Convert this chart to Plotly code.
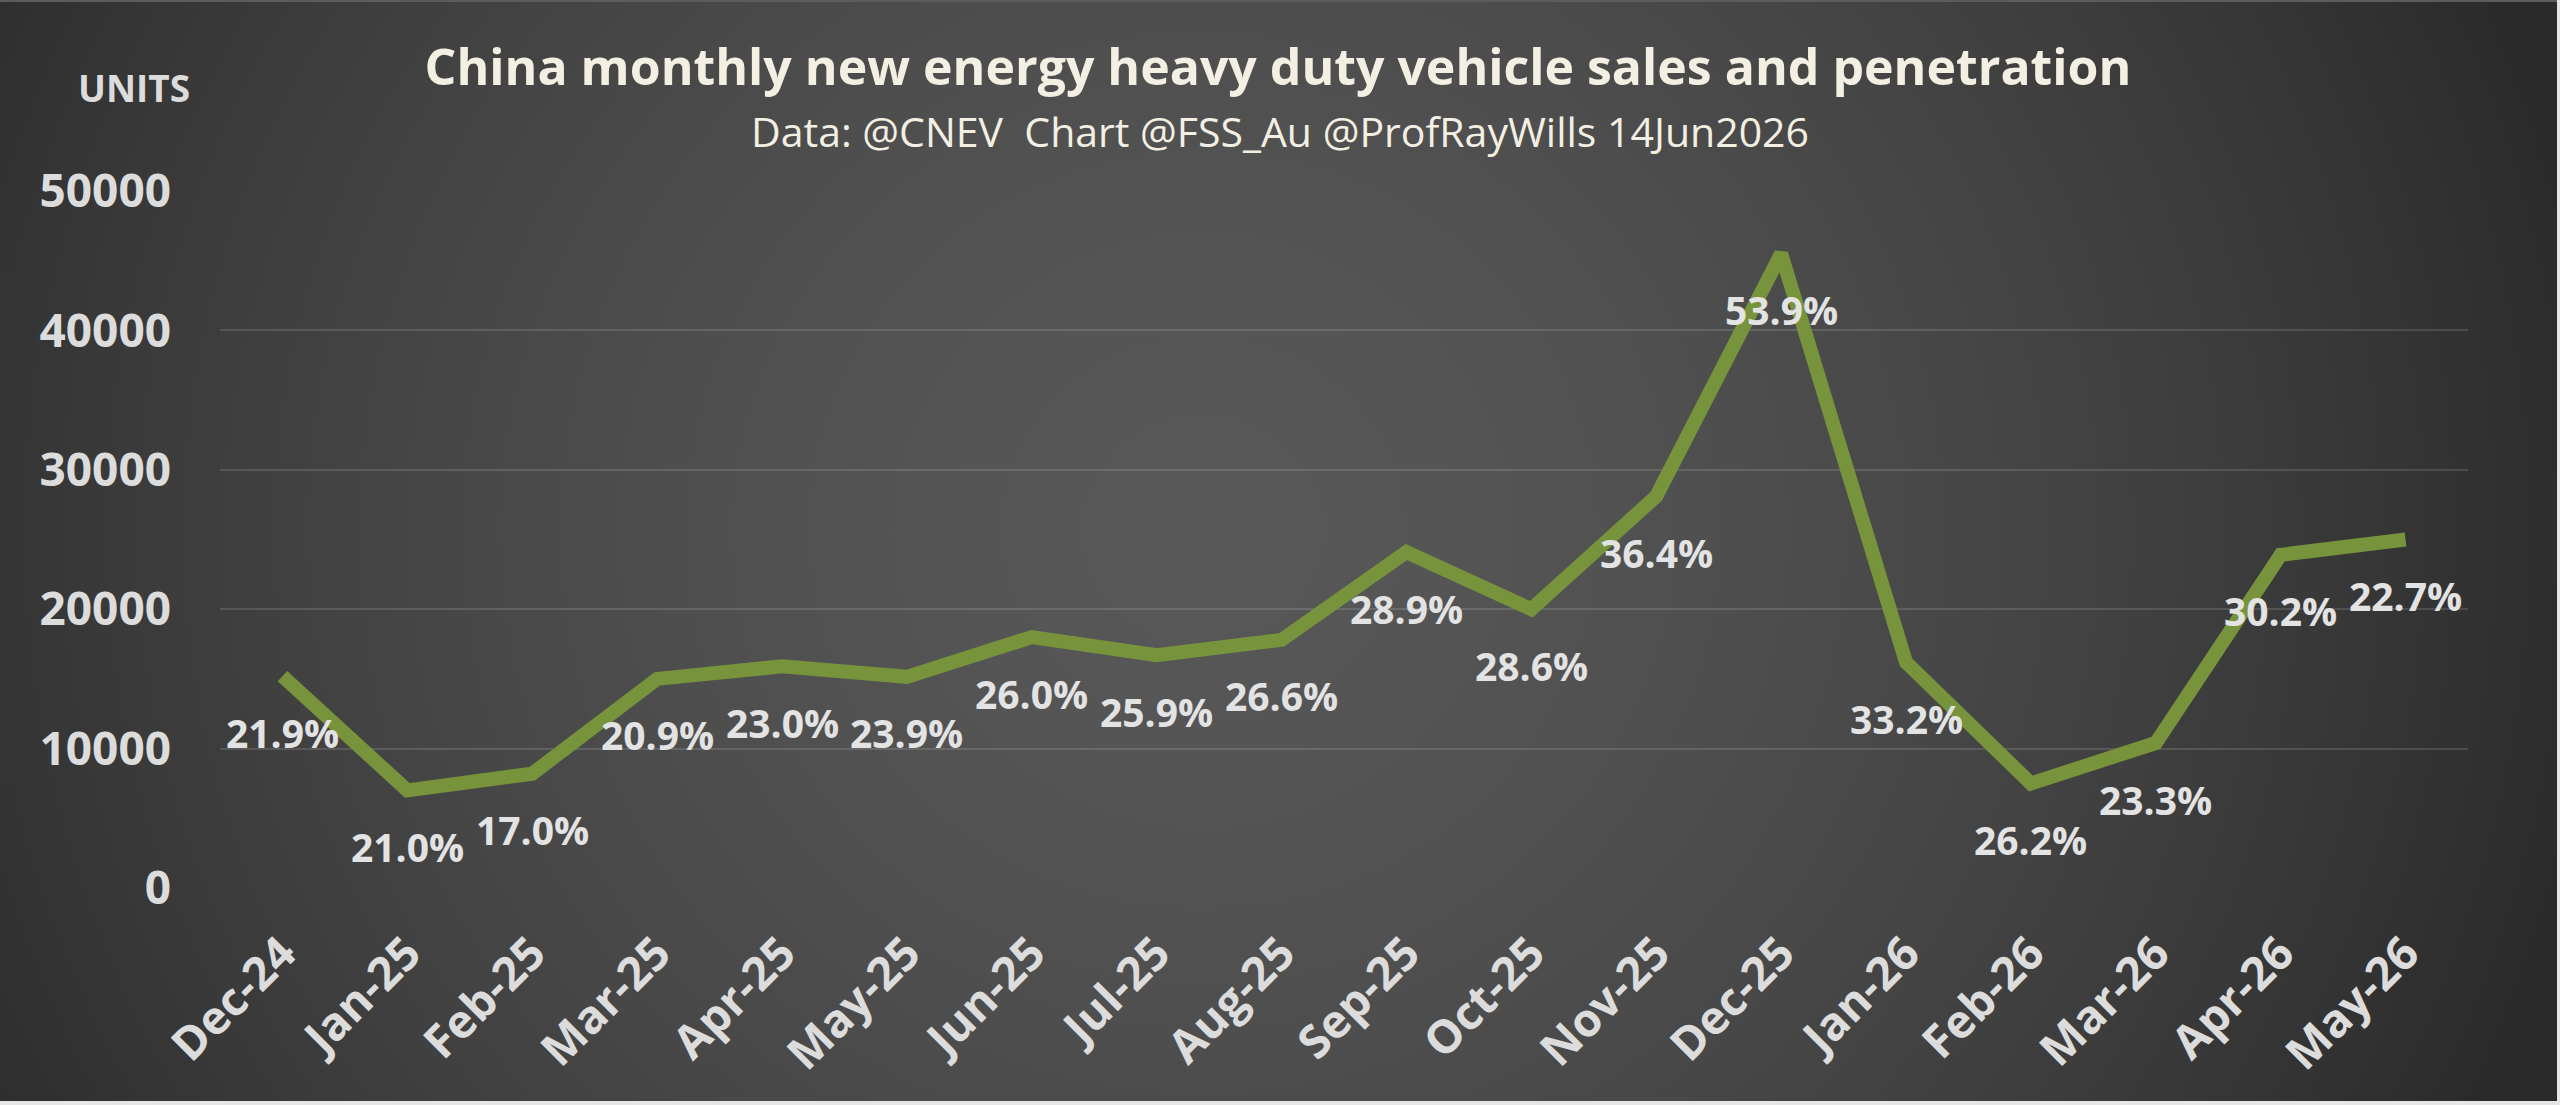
import base64
import struct
import zlib

import numpy as np
import plotly.graph_objects as go

# ---------------- data ----------------
months = ["Dec-24", "Jan-25", "Feb-25", "Mar-25", "Apr-25", "May-25", "Jun-25",
          "Jul-25", "Aug-25", "Sep-25", "Oct-25", "Nov-25", "Dec-25", "Jan-26",
          "Feb-26", "Mar-26", "Apr-26", "May-26"]
sales_units = [15200, 7000, 8200, 15000, 15900, 15150, 18000, 16700, 17800,
               24100, 20000, 28100, 45500, 16200, 7500, 10400, 23900, 25000]
penetration_pct = [21.9, 21.0, 17.0, 20.9, 23.0, 23.9, 26.0, 25.9, 26.6,
                   28.9, 28.6, 36.4, 53.9, 33.2, 26.2, 23.3, 30.2, 22.7]
y_ticks = [0, 10000, 20000, 30000, 40000, 50000]

title_text = "China monthly new energy heavy duty vehicle sales and penetration"
subtitle_text = "Data: @CNEV  Chart @FSS_Au @ProfRayWills 14Jun2026"
unit_text = "UNITS"

# ---------------- geometry ----------------
W, H = 2560, 1105
ML, MR, MT, MB = 220, 92, 191, 217
PW, PH = W - ML - MR, H - MT - MB


def px_to_paper_x(px):
    return (px - ML) / PW


def py_to_paper_y(py):
    return (H - MB - py) / PH


# ---------------- background gradient as PNG ----------------
def gradient_png(w=320, h=138):
    xs = (np.arange(w) + 0.5) / w
    ys = (np.arange(h) + 0.5) / h
    X, Y = np.meshgrid(xs, ys)
    d = np.sqrt(((X - 0.47) / 0.56) ** 2 + ((Y - 0.48) / 1.25) ** 2)
    d = np.clip(d, 0, 1)
    t = 1 - d ** 1.6
    v = 42 + (88 - 42) * t
    img = np.clip(v, 0, 255).astype(np.uint8)
    rgb = np.stack([img, img, img], axis=-1)
    raw = b"".join(b"\x00" + rgb[r].tobytes() for r in range(h))

    def chunk(tag, data):
        c = struct.pack(">I", len(data)) + tag + data
        return c + struct.pack(">I", zlib.crc32(tag + data) & 0xFFFFFFFF)

    png = b"\x89PNG\r\n\x1a\n"
    png += chunk(b"IHDR", struct.pack(">IIBBBBB", w, h, 8, 2, 0, 0, 0))
    png += chunk(b"IDAT", zlib.compress(raw, 9))
    png += chunk(b"IEND", b"")
    return "data:image/png;base64," + base64.b64encode(png).decode()


FONT = "Open Sans"
LABEL_COLOR = "#E3E3E3"
TICK_COLOR = "#DCDCDC"
TITLE_COLOR = "#F3EFE3"

fig = go.Figure()
fig.add_trace(go.Scatter(
    x=months, y=sales_units, mode="lines",
    line=dict(color="#77933C", width=14),
    hoverinfo="skip", cliponaxis=False, showlegend=False,
))

annotations = []
for m, s, p in zip(months, sales_units, penetration_pct):
    annotations.append(dict(
        x=m, y=s, xref="x", yref="y", text=f"{p:.1f}%", showarrow=False,
        yshift=-56, font=dict(family=FONT, size=39, color=LABEL_COLOR, weight=700),
    ))

annotations.append(dict(
    x=px_to_paper_x(1280), y=py_to_paper_y(131), xref="paper", yref="paper",
    text=subtitle_text, showarrow=False, xanchor="center", yanchor="middle",
    font=dict(family=FONT, size=41, color=TITLE_COLOR),
))
annotations.append(dict(
    x=px_to_paper_x(134), y=py_to_paper_y(87), xref="paper", yref="paper",
    text=unit_text, showarrow=False, xanchor="center", yanchor="middle",
    font=dict(family=FONT, size=37, color=TICK_COLOR, weight=700),
))

fig.update_layout(
    width=W, height=H,
    margin=dict(l=ML, r=MR, t=MT, b=MB, pad=0),
    paper_bgcolor="#404040",
    plot_bgcolor="rgba(0,0,0,0)",
    title=dict(
        text=title_text, xref="container", yref="container",
        x=1278 / W, y=1 - 67 / H, xanchor="center", yanchor="middle",
        font=dict(family=FONT, size=50, color=TITLE_COLOR, weight=700),
    ),
    xaxis=dict(
        type="category", range=[-0.5, len(months) - 0.5],
        showgrid=False, zeroline=False, showline=False, ticks="",
        tickangle=-45,
        tickfont=dict(family=FONT, size=46, color=TICK_COLOR, weight=700),
        ticklabelstandoff=28,
    ),
    yaxis=dict(
        range=[0, 50000], tickvals=y_ticks, tickformat="d",
        showgrid=True, gridcolor="rgba(255,255,255,0.13)", gridwidth=2,
        zeroline=False, showline=False, ticks="",
        tickfont=dict(family=FONT, size=46, color=TICK_COLOR, weight=700),
        ticklabelstandoff=48,
    ),
    annotations=annotations,
    images=[dict(
        source=gradient_png(), xref="paper", yref="paper",
        x=px_to_paper_x(0), y=py_to_paper_y(0),
        sizex=W / PW, sizey=H / PH, sizing="stretch",
        xanchor="left", yanchor="top", layer="below",
    )],
    shapes=[
        dict(type="line", xref="paper", yref="paper",
             x0=px_to_paper_x(0), x1=px_to_paper_x(W),
             y0=py_to_paper_y(1), y1=py_to_paper_y(1),
             line=dict(color="#5c5c5c", width=2), layer="above"),
        dict(type="line", xref="paper", yref="paper",
             x0=px_to_paper_x(0), x1=px_to_paper_x(W),
             y0=py_to_paper_y(H - 2), y1=py_to_paper_y(H - 2),
             line=dict(color="#e6e6e6", width=4), layer="above"),
        dict(type="line", xref="paper", yref="paper",
             x0=px_to_paper_x(W - 1.5), x1=px_to_paper_x(W - 1.5),
             y0=py_to_paper_y(0), y1=py_to_paper_y(H),
             line=dict(color="#e6e6e6", width=3), layer="above"),
    ],
)

fig.write_html("out.html")
